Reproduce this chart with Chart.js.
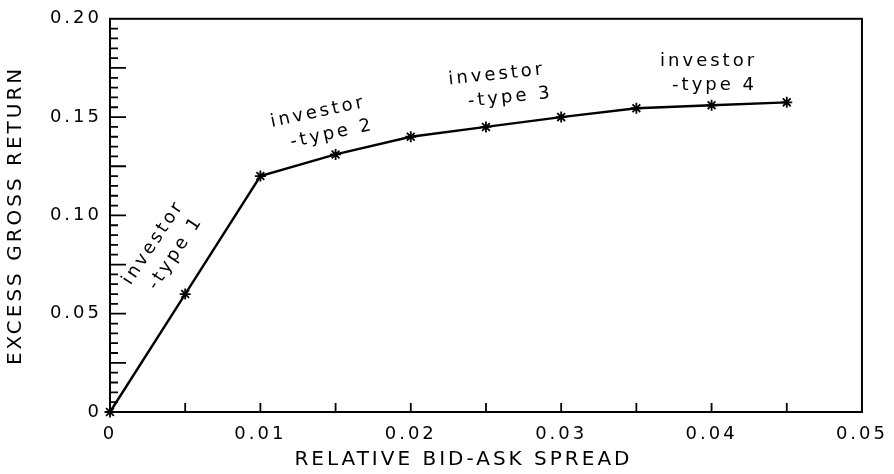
<!DOCTYPE html>
<html>
<head>
<meta charset="utf-8">
<script src="https://cdn.jsdelivr.net/npm/chart.js@4/dist/chart.umd.min.js"></script>
<style>
  html, body { margin: 0; padding: 0; background: #fff; }
  #wrap { width: 894px; height: 474px; }
</style>
</head>
<body>
<div id="wrap"><canvas id="spread"></canvas></div>
<script>
// relative bid-ask spread vs excess gross return
var spreads = [0, 0.005, 0.01, 0.015, 0.02, 0.025, 0.03, 0.035, 0.04, 0.045];
var returns = [0, 0.060, 0.120, 0.131, 0.140, 0.145, 0.150, 0.1545, 0.156, 0.1575];

var investorTop = ['investor', 'investor', 'investor', 'investor'];
var investorBottom = ['-type 1', '-type 2', '-type 3', '-type 4'];
var labelSpreads = [0.0035, 0.0140, 0.0258, 0.0398];
var labelReturns = [0.0830, 0.1470, 0.1660, 0.1730];

// angle in degrees, indent of the 2nd line
var labelLook = [
  { rot: -56.5, indent: 4 },
  { rot: -12, indent: 9 },
  { rot: -6, indent: 11 },
  { rot: 0, indent: 6 }
];

var xTitle = 'RELATIVE BID-ASK SPREAD';
var FONT = '"DejaVu Sans", sans-serif';

function isMult(v, step) {
  var q = v / step;
  return Math.abs(q - Math.round(q)) < 1e-6;
}

var boxAndTicks = {
  id: 'boxAndTicks',
  beforeDraw: function(chart) {
    chart.ctx.letterSpacing = '3px';
  },
  afterDraw: function(chart) {
    var ctx = chart.ctx;
    var a = chart.chartArea;
    var xs = chart.scales.x, ys = chart.scales.y;
    ctx.save();
    ctx.strokeStyle = '#000';
    ctx.lineWidth = 2;
    ctx.strokeRect(a.left, a.top, a.right - a.left, a.bottom - a.top);

    ctx.lineWidth = 1.8;
    ctx.beginPath();
    xs.ticks.forEach(function(t) {
      var px = xs.getPixelForValue(t.value);
      if (t.value <= 0 || t.value >= 0.05 - 1e-9) return;
      ctx.moveTo(px, a.bottom);
      ctx.lineTo(px, a.bottom - 9);
    });
    ys.ticks.forEach(function(t) {
      var py = ys.getPixelForValue(t.value);
      if (t.value <= 0 || t.value >= 0.2 - 1e-9) return;
      var len = isMult(t.value, 0.025) ? 16 : 8;
      ctx.moveTo(a.left, py);
      ctx.lineTo(a.left + len, py);
    });
    ctx.stroke();

    ctx.fillStyle = '#000';
    ctx.letterSpacing = '3px';

    // x axis title, slightly left of centre like the original
    ctx.font = '20px ' + FONT;
    ctx.textAlign = 'center';
    ctx.textBaseline = 'middle';
    ctx.fillText(xTitle, xs.getPixelForValue(0.0235), 460);

    // investor-type annotations
    ctx.font = '18px ' + FONT;
    investorTop.forEach(function(txt, i) {
      var px = xs.getPixelForValue(labelSpreads[i]);
      var py = ys.getPixelForValue(labelReturns[i]);
      ctx.save();
      ctx.translate(px, py);
      ctx.rotate(labelLook[i].rot * Math.PI / 180);
      ctx.fillText(txt, 0, -11);
      ctx.fillText(investorBottom[i], labelLook[i].indent, 13);
      ctx.restore();
    });
    ctx.restore();
  }
};

new Chart(document.getElementById('spread'), {
  type: 'scatter',
  data: {
    datasets: [{
      data: spreads.map(function(s, i) { return { x: s, y: returns[i] }; }),
      showLine: true,
      borderColor: '#000',
      borderWidth: 2.4,
      pointStyle: 'star',
      pointRadius: 5.5,
      pointBorderWidth: 1.8,
      pointBorderColor: '#000',
      pointBackgroundColor: '#000',
      clip: false,
      tension: 0
    }]
  },
  options: {
    responsive: true,
    maintainAspectRatio: false,
    animation: false,
    layout: { padding: { top: 16, right: 31, left: 0, bottom: 0 } },
    plugins: { legend: { display: false }, tooltip: { enabled: false } },
    scales: {
      x: {
        type: 'linear',
        min: 0,
        max: 0.05,
        afterFit: function(scale) { scale.height = 62; },
        grid: { display: false, drawTicks: false },
        border: { display: false },
        ticks: {
          stepSize: 0.005,
          autoSkip: false,
          maxRotation: 0,
          padding: 12,
          color: '#000',
          font: { family: FONT, size: 18 },
          callback: function(v) {
            if (!isMult(v, 0.01)) return '';
            return v === 0 ? '0' : v.toFixed(2);
          }
        }
      },
      y: {
        type: 'linear',
        min: 0,
        max: 0.2,
        afterFit: function(scale) { scale.width = 110; },
        grid: { display: false, drawTicks: false },
        border: { display: false },
        ticks: {
          stepSize: 0.005,
          autoSkip: false,
          padding: 8,
          color: '#000',
          font: { family: FONT, size: 18 },
          callback: function(v) {
            if (!isMult(v, 0.05)) return '';
            return v === 0 ? '0' : v.toFixed(2);
          }
        },
        title: {
          display: true,
          text: 'EXCESS GROSS RETURN',
          color: '#000',
          font: { family: FONT, size: 20 },
          padding: { top: 4, bottom: 0 }
        }
      }
    }
  },
  plugins: [boxAndTicks]
});
</script>
</body>
</html>
